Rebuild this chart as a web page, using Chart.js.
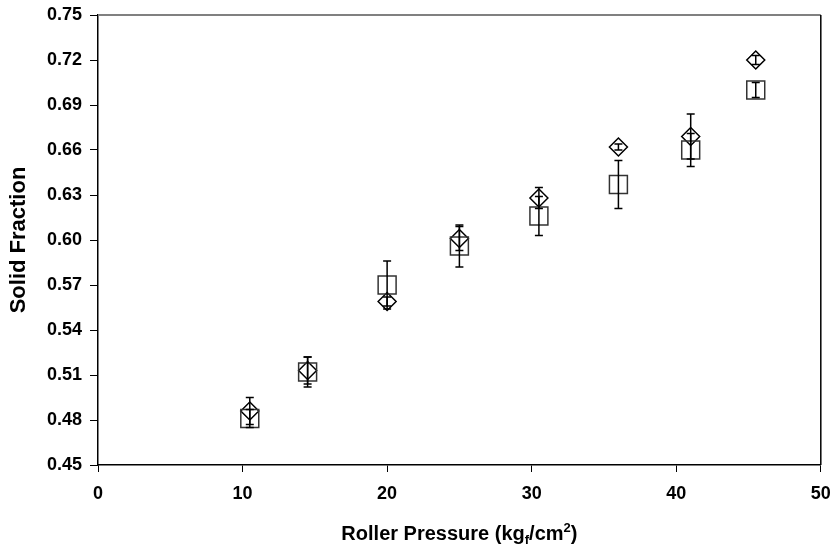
<!DOCTYPE html>
<html>
<head>
<meta charset="utf-8">
<script src="https://cdn.jsdelivr.net/npm/chart.js@4"></script>
<style>
  body { margin: 0; background: #fff; }
  #wrap { width: 835px; height: 552px; }
</style>
</head>
<body>
<div id="wrap"><canvas id="myChart" width="835" height="552"></canvas></div>
<script>
'use strict';
// roller pressure (kgf/cm2)
let pressure = [10.5, 14.5, 20, 25, 30.5, 36, 41, 45.5];
// square markers
let squareVals = [0.481, 0.512, 0.570, 0.596, 0.616, 0.637, 0.660, 0.700];
let squareErr = [0.006, 0.010, 0.016, 0.014, 0.013, 0.016, 0.011, 0.005];
// diamond markers
let diamondVals = [0.486, 0.513, 0.559, 0.601, 0.628, 0.662, 0.669, 0.720];
let diamondErr = [0.009, 0.009, 0.003, 0.008, 0.007, 0.002, 0.015, 0.003];

let xTicks = [0, 10, 20, 30, 40, 50];
let yTicks = [0.45, 0.48, 0.51, 0.54, 0.57, 0.60, 0.63, 0.66, 0.69, 0.72, 0.75];

let fontName = '"Liberation Sans", Arial, sans-serif';

function toPoints(xs, ys) {
    let pts = [];
    for (let i = 0; i < xs.length; i++) {
        pts.push({ x: xs[i], y: ys[i] });
    }
    return pts;
}

// error bars, drawn through the library scales
let errorBars = {
    id: 'errorBars',
    afterDatasetsDraw(chart) {
        let ctx = chart.ctx;
        let xs = chart.scales.x;
        let ys = chart.scales.y;
        let sets = [[squareVals, squareErr], [diamondVals, diamondErr]];
        ctx.save();
        ctx.strokeStyle = '#000';
        ctx.lineWidth = 1.5;
        for (let s = 0; s < sets.length; s++) {
            let vals = sets[s][0];
            let errs = sets[s][1];
            for (let i = 0; i < pressure.length; i++) {
                let px = xs.getPixelForValue(pressure[i]);
                let top = ys.getPixelForValue(vals[i] + errs[i]);
                let bot = ys.getPixelForValue(vals[i] - errs[i]);
                ctx.beginPath();
                ctx.moveTo(px, top);
                ctx.lineTo(px, bot);
                ctx.moveTo(px - 4, top);
                ctx.lineTo(px + 4, top);
                ctx.moveTo(px - 4, bot);
                ctx.lineTo(px + 4, bot);
                ctx.stroke();
            }
        }
        ctx.restore();
    }
};

// top and right frame lines + x title with sub/superscript
let frame = {
    id: 'frame',
    afterDraw(chart) {
        let ctx = chart.ctx;
        let a = chart.chartArea;
        ctx.save();
        ctx.lineWidth = 2;
        ctx.strokeStyle = '#808080';
        ctx.beginPath();
        ctx.moveTo(a.left, a.top);
        ctx.lineTo(a.right, a.top);
        ctx.stroke();
        ctx.lineWidth = 1.5;
        ctx.strokeStyle = '#000';
        ctx.beginPath();
        ctx.moveTo(a.right, a.top);
        ctx.lineTo(a.right, a.bottom);
        ctx.stroke();

        // x axis title
        let big = 'bold 20px ' + fontName;
        let small = 'bold 13px ' + fontName;
        let parts = [
            ['Roller Pressure (kg', big, 0],
            ['f', small, 4],
            ['/cm', big, 0],
            ['2', small, -8],
            [')', big, 0]
        ];
        let total = 0;
        for (let p of parts) {
            ctx.font = p[1];
            total += ctx.measureText(p[0]).width;
        }
        let x = (a.left + a.right) / 2 - total / 2;
        let y = 540;
        ctx.fillStyle = '#000';
        ctx.textBaseline = 'alphabetic';
        ctx.textAlign = 'left';
        for (let p of parts) {
            ctx.font = p[1];
            ctx.fillText(p[0], x, y + p[2]);
            x += ctx.measureText(p[0]).width;
        }
        ctx.restore();
    }
};

function chartRender() {
    let ctx = document.getElementById('myChart').getContext('2d');
    let myChart = new Chart(ctx, {
        type: 'scatter',
        data: {
            datasets: [{
                label: 'square',
                data: toPoints(pressure, squareVals),
                pointStyle: 'rect',
                pointRadius: 12.7,
                pointHoverRadius: 12.7,
                backgroundColor: 'rgba(0,0,0,0)',
                borderColor: '#333',
                borderWidth: 1.5
            }, {
                label: 'diamond',
                data: toPoints(pressure, diamondVals),
                pointStyle: 'rectRot',
                pointRadius: 9,
                pointHoverRadius: 9,
                backgroundColor: 'rgba(0,0,0,0)',
                borderColor: '#000',
                borderWidth: 1.5
            }]
        },
        options: {
            responsive: false,
            animation: false,
            layout: { padding: { top: 15, right: 14, left: 0, bottom: 0 } },
            plugins: {
                legend: { display: false },
                tooltip: { enabled: false }
            },
            scales: {
                x: {
                    type: 'linear',
                    min: 0,
                    max: 50,
                    afterBuildTicks(scale) {
                        scale.ticks = xTicks.map(v => ({ value: v }));
                    },
                    afterFit(scale) {
                        scale.height = 87;
                        scale.paddingRight = 10;
                        scale.paddingLeft = 0;
                    },
                    grid: { drawOnChartArea: false, drawTicks: true, tickLength: 7, color: '#000' },
                    border: { color: '#000', width: 1.5 },
                    ticks: {
                        padding: 11,
                        color: '#000',
                        font: { family: fontName, size: 18, weight: 'bold' }
                    }
                },
                y: {
                    type: 'linear',
                    min: 0.45,
                    max: 0.75,
                    afterBuildTicks(scale) {
                        scale.ticks = yTicks.map(v => ({ value: v }));
                    },
                    afterFit(scale) {
                        scale.width = 98;
                        scale.paddingTop = 0;
                        scale.paddingBottom = 0;
                    },
                    grid: { drawOnChartArea: false, drawTicks: true, tickLength: 8, color: '#000' },
                    border: { color: '#000', width: 1.5 },
                    ticks: {
                        padding: 8,
                        color: '#000',
                        font: { family: fontName, size: 18, weight: 'bold' },
                        callback: function (v) { return Number(v).toFixed(2); }
                    },
                    title: {
                        display: true,
                        text: 'Solid Fraction',
                        color: '#000',
                        font: { family: fontName, size: 22, weight: 'bold' },
                        padding: { top: 6, bottom: 0 }
                    }
                }
            }
        },
        plugins: [errorBars, frame]
    });
}
chartRender();
</script>
</body>
</html>
